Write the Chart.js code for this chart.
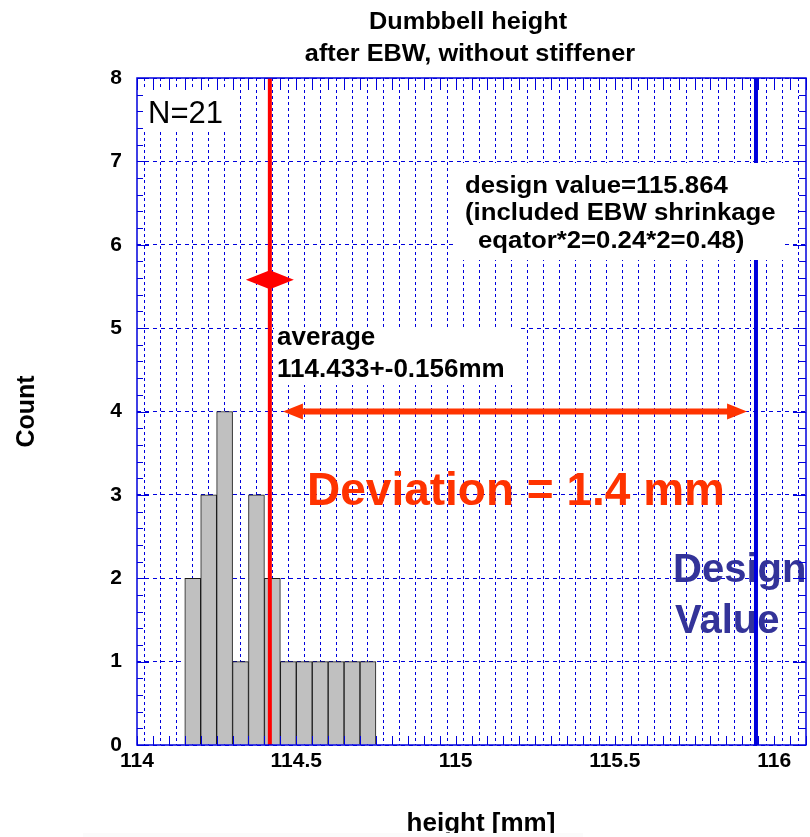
<!DOCTYPE html>
<html>
<head>
<meta charset="utf-8">
<title>Dumbbell height after EBW</title>
<script src="https://cdn.jsdelivr.net/npm/chart.js@4.4.1/dist/chart.umd.min.js"></script>
<style>
  html, body { margin: 0; padding: 0; background: #fff; }
</style>
</head>
<body>
<canvas id="chart" width="810" height="837"></canvas>
<script>
// histogram: bin centres in mm (bins are 0.05 mm wide) and counts
const binCenters = [114.175, 114.225, 114.275, 114.325, 114.375, 114.425, 114.475, 114.525, 114.575, 114.625, 114.675, 114.725];
const binCounts  = [2, 3, 4, 1, 3, 2, 1, 1, 1, 1, 1, 1];
const xTickLabels = [114, 114.5, 115, 115.5, 116];
const yTickLabels = [0, 1, 2, 3, 4, 5, 6, 7, 8];

// vertical markers as drawn on the plot (mm)
const averageLine = 114.417;
const designLine = 115.943;
// deviation arrow, drawn at count = 4
const deviationArrow = [114.458, 115.915];
const deviationLevel = 4;
const averageMarkLevel = 5.58;

const FONT = '"Liberation Sans", Arial, Helvetica, sans-serif';
const RED = '#ff0000';
const ORANGE = '#ff3300';
const BLUE = '#0000dd';

function stretchedText(ctx, text, x, y, sx, align) {
  ctx.save();
  ctx.translate(x, y);
  ctx.scale(sx, 1);
  ctx.textAlign = align || 'left';
  ctx.fillText(text, 0, 0);
  ctx.restore();
}

// ROOT-like decorations: title, frame with inner ticks, labels, arrows
const decorations = {
  id: 'decorations',
  beforeDatasetsDraw(chart) {
    // "Design Value" sits under the blue line
    const { ctx } = chart;
    ctx.save();
    ctx.fillStyle = '#333399';
    ctx.font = 'bold 40px ' + FONT;
    ctx.fillText('Design', 673, 582);
    ctx.fillText('Value', 675, 633);
    ctx.restore();
  },
  afterDatasetsDraw(chart) {
    const { ctx, chartArea: a, scales: { x, y } } = chart;
    ctx.save();

    // white label boxes (they hide grid and the design line)
    ctx.fillStyle = '#fff';
    ctx.fillRect(139, 88, 89, 42);
    ctx.fillRect(274, 327, 244, 58);
    ctx.fillRect(457, 163, 328, 97);

    // average marker: two arrow heads on the red line
    const cx = x.getPixelForValue(averageLine);
    const cy = y.getPixelForValue(averageMarkLevel);
    ctx.fillStyle = RED;
    ctx.beginPath();
    ctx.moveTo(cx - 24, cy);
    ctx.lineTo(cx, cy - 9.5);
    ctx.lineTo(cx + 24, cy);
    ctx.lineTo(cx, cy + 9.5);
    ctx.closePath();
    ctx.fill();

    // deviation double arrow
    const x1 = x.getPixelForValue(deviationArrow[0]);
    const x2 = x.getPixelForValue(deviationArrow[1]);
    const ay = y.getPixelForValue(deviationLevel);
    ctx.fillStyle = ORANGE;
    ctx.fillRect(x1 + 18, ay - 3, x2 - x1 - 36, 6);
    ctx.beginPath();
    ctx.moveTo(x1, ay); ctx.lineTo(x1 + 20, ay - 8); ctx.lineTo(x1 + 20, ay + 8); ctx.closePath();
    ctx.moveTo(x2, ay); ctx.lineTo(x2 - 20, ay - 8); ctx.lineTo(x2 - 20, ay + 8); ctx.closePath();
    ctx.fill();

    // texts
    ctx.textBaseline = 'alphabetic';
    ctx.fillStyle = '#000';
    ctx.font = '31px ' + FONT;
    ctx.fillText('N=21', 148, 123);

    ctx.font = 'bold 26px ' + FONT;
    ctx.fillText('average', 277, 345);
    ctx.fillText('114.433+-0.156mm', 277, 377);

    ctx.font = 'bold 23px ' + FONT;
    stretchedText(ctx, 'design value=115.864', 465, 193, 1.12);
    stretchedText(ctx, '(included EBW shrinkage', 465, 220, 1.12);
    stretchedText(ctx, 'eqator*2=0.24*2=0.48)', 478, 248, 1.12);

    ctx.fillStyle = ORANGE;
    ctx.font = 'bold 46px ' + FONT;
    ctx.fillText('Deviation = 1.4 mm', 307, 505);

    // title
    ctx.fillStyle = '#000';
    ctx.font = 'bold 23px ' + FONT;
    stretchedText(ctx, 'Dumbbell height', 468, 29, 1.1, 'center');
    stretchedText(ctx, 'after EBW, without stiffener', 470, 61, 1.1, 'center');

    // x axis title, bottom clipped like the original
    ctx.font = 'bold 26px ' + FONT;
    ctx.textAlign = 'center';
    ctx.fillText('height [mm]', 481, 831);
    ctx.fillStyle = '#fbfbfb';
    ctx.fillRect(83, 833, 500, 4);

    // inner tick marks
    ctx.strokeStyle = BLUE;
    ctx.lineWidth = 1;
    ctx.beginPath();
    for (let v = 0; v <= 42; v++) {
      const px = Math.round(x.getPixelForValue(114 + v * 0.05)) + 0.5;
      ctx.moveTo(px, a.bottom); ctx.lineTo(px, a.bottom - 9);
      ctx.moveTo(px, a.top); ctx.lineTo(px, a.top + 12);
    }
    for (let v = 0; v <= 40; v++) {
      const py = Math.round(y.getPixelForValue(v * 0.2)) + 0.5;
      const len = v % 5 === 0 ? 12 : 6;
      ctx.moveTo(a.left, py); ctx.lineTo(a.left + len, py);
      ctx.moveTo(a.right, py); ctx.lineTo(a.right - len - 1, py);
    }
    ctx.stroke();

    // frame
    ctx.lineWidth = 1.5;
    ctx.strokeRect(a.left, a.top, a.right - a.left, a.bottom - a.top);
    ctx.restore();
  }
};

const tickFont = { family: FONT, size: 21, weight: 'bold' };

new Chart(document.getElementById('chart'), {
  type: 'bar',
  data: {
    datasets: [
      {
        type: 'bar',
        data: binCenters.map((c, i) => ({ x: c, y: binCounts[i] })),
        backgroundColor: '#c0c0c0',
        borderColor: '#1a1a1a',
        borderWidth: 1,
        barPercentage: 1,
        categoryPercentage: 1,
        order: 3
      },
      {
        type: 'line',
        data: [{ x: averageLine, y: 0 }, { x: averageLine, y: 8 }],
        borderColor: RED,
        borderWidth: 4,
        pointRadius: 0,
        order: 1
      },
      {
        type: 'line',
        data: [{ x: designLine, y: 0 }, { x: designLine, y: 8 }],
        borderColor: BLUE,
        borderWidth: 4,
        pointRadius: 0,
        order: 2
      }
    ]
  },
  options: {
    responsive: false,
    animation: false,
    layout: { padding: { top: 78, right: 3, left: 0, bottom: 0 } },
    plugins: { legend: { display: false }, tooltip: { enabled: false }, title: { display: false } },
    scales: {
      x: {
        type: 'linear',
        min: 114,
        max: 116.1,
        offset: false,
        grid: { color: BLUE, lineWidth: 1, drawTicks: false },
        border: { display: false, dash: [3, 3] },
        ticks: {
          stepSize: 0.05,
          autoSkip: false,
          maxRotation: 0,
          padding: 4,
          color: '#000',
          font: tickFont,
          callback: (v) => {
            const hit = xTickLabels.find(t => Math.abs(t - v) < 1e-6);
            return hit === undefined ? '' : String(hit);
          }
        },
        afterFit: (s) => { s.height = 92; }
      },
      y: {
        min: 0,
        max: 8,
        grid: { color: BLUE, lineWidth: 1, drawTicks: false },
        border: { display: false, dash: [4, 4] },
        ticks: {
          stepSize: 1,
          padding: 15,
          color: '#000',
          font: tickFont,
          callback: (v) => yTickLabels.includes(v) ? String(v) : ''
        },
        title: {
          display: true,
          text: 'Count',
          color: '#000',
          font: { family: FONT, size: 25, weight: 'bold' },
          padding: { top: 12, bottom: 0 }
        },
        afterFit: (s) => { s.width = 137; }
      }
    }
  },
  plugins: [decorations]
});
</script>
</body>
</html>
